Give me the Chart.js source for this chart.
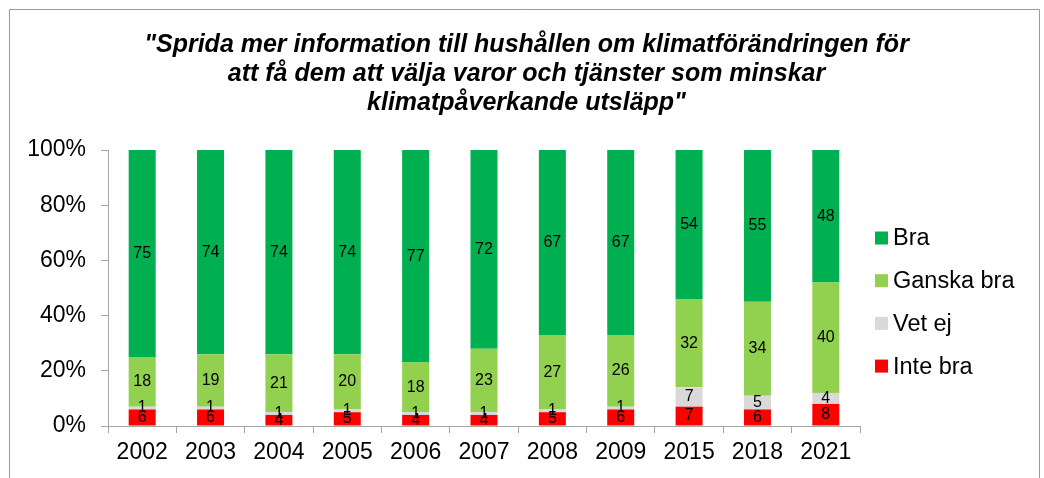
<!DOCTYPE html>
<html>
<head>
<meta charset="utf-8">
<script src="https://cdn.jsdelivr.net/npm/chart.js@4/dist/chart.umd.min.js"></script>
<style>
  html, body { margin: 0; padding: 0; background: #fff; }
  #wrap { width: 1044px; height: 478px; }
</style>
</head>
<body>
<div id="wrap"><canvas id="chart" width="1044" height="478"></canvas></div>
<script>
// data (percent)
const years = ['2002', '2003', '2004', '2005', '2006', '2007', '2008', '2009', '2015', '2018', '2021'];
const inteBra = [6, 6, 4, 5, 4, 4, 5, 6, 7, 6, 8];
const vetEj = [1, 1, 1, 1, 1, 1, 1, 1, 7, 5, 4];
const ganskaBra = [18, 19, 21, 20, 18, 23, 27, 26, 32, 34, 40];
const bra = [75, 74, 74, 74, 77, 72, 67, 67, 54, 55, 48];
const yTicks = [0, 20, 40, 60, 80, 100];

const titleLines = [
    '"Sprida mer information till hushållen om klimatförändringen för',
    'att få dem att välja varor och tjänster som minskar',
    'klimatpåverkande utsläpp"'
];

const FONT = "'Liberation Sans', Arial, sans-serif";
const AXIS_GRAY = '#a6a6a6';

// thin frame around the whole chart (open at the bottom like the reference)
const framePlugin = {
    id: 'frame',
    beforeDraw(chart) {
        const ctx = chart.ctx;
        ctx.save();
        ctx.strokeStyle = '#9a9a9a';
        ctx.lineWidth = 1;
        ctx.beginPath();
        ctx.moveTo(9.5, chart.height);
        ctx.lineTo(9.5, 9.5);
        ctx.lineTo(1039.5, 9.5);
        ctx.lineTo(1039.5, chart.height);
        ctx.stroke();
        ctx.restore();
    }
};

// value labels in the middle of each segment
const segmentLabels = {
    id: 'segmentLabels',
    afterDatasetsDraw(chart) {
        const ctx = chart.ctx;
        ctx.save();
        ctx.font = '16px ' + FONT;
        ctx.fillStyle = '#000';
        ctx.textAlign = 'center';
        ctx.textBaseline = 'middle';
        chart.data.datasets.forEach((ds, i) => {
            const meta = chart.getDatasetMeta(i);
            meta.data.forEach((bar, j) => {
                const v = ds.data[j];
                if (!v) return;
                const yMid = (bar.y + bar.base) / 2;
                ctx.fillText(String(v), bar.x, yMid);
            });
        });
        ctx.restore();
    }
};

// legend on the right, top item = top of the stack
const sideLegend = {
    id: 'sideLegend',
    afterDraw(chart) {
        const ctx = chart.ctx;
        const items = chart.data.datasets.slice().reverse();
        const x = chart.chartArea.right + 15;
        let y = 238;
        ctx.save();
        ctx.font = '23.5px ' + FONT;
        ctx.textBaseline = 'middle';
        ctx.textAlign = 'left';
        items.forEach((ds) => {
            ctx.fillStyle = ds.backgroundColor;
            ctx.fillRect(x, y - 6.5, 13, 13);
            ctx.fillStyle = '#000';
            ctx.fillText(ds.label, x + 18, y + 1);
            y += 42.7;
        });
        ctx.restore();
    }
};

const ctx = document.getElementById('chart').getContext('2d');
new Chart(ctx, {
    type: 'bar',
    data: {
        labels: years,
        datasets: [
            { label: 'Inte bra', data: inteBra, backgroundColor: '#ff0000' },
            { label: 'Vet ej', data: vetEj, backgroundColor: '#d9d9d9' },
            { label: 'Ganska bra', data: ganskaBra, backgroundColor: '#92d050' },
            { label: 'Bra', data: bra, backgroundColor: '#00b050' },
        ],
    },
    options: {
        responsive: false,
        animation: false,
        devicePixelRatio: 1,
        datasets: {
            bar: { categoryPercentage: 1, barPercentage: 0.395, borderWidth: 0 },
        },
        layout: { padding: { top: 0, left: 9, right: 0, bottom: 0 } },
        plugins: {
            legend: { display: false },
            tooltip: { enabled: false },
            title: {
                display: true,
                text: titleLines,
                color: '#000',
                font: { family: FONT, size: 25, weight: 'bold', style: 'italic', lineHeight: '29px' },
                padding: { top: 31, bottom: 32 },
            },
        },
        scales: {
            x: {
                stacked: true,
                grid: { drawOnChartArea: false, drawTicks: true, tickLength: 7, color: AXIS_GRAY, offset: true },
                border: { color: AXIS_GRAY, width: 1 },
                ticks: { color: '#000', font: { family: FONT, size: 23 }, padding: 6, maxRotation: 0 },
                afterFit: (s) => { s.width = s.width; s.height = 52; },
            },
            y: {
                stacked: true,
                min: 0,
                max: 100,
                afterBuildTicks: (s) => { s.ticks = yTicks.map((v) => ({ value: v })); },
                grid: { drawOnChartArea: false, drawTicks: true, tickLength: 7, color: AXIS_GRAY },
                border: { color: AXIS_GRAY, width: 1 },
                ticks: {
                    color: '#000',
                    font: { family: FONT, size: 23 },
                    padding: 15,
                    callback: (v) => v + '%',
                },
                afterFit: (s) => { s.width = 99; },
            },
            // empty column on the right that holds the legend
            legendSpace: {
                axis: 'y',
                position: 'right',
                min: 0,
                max: 100,
                grid: { display: false },
                border: { display: false },
                ticks: { display: false },
                afterFit: (s) => { s.width = 184; },
            },
        },
    },
    plugins: [framePlugin, segmentLabels, sideLegend],
});
</script>
</body>
</html>
